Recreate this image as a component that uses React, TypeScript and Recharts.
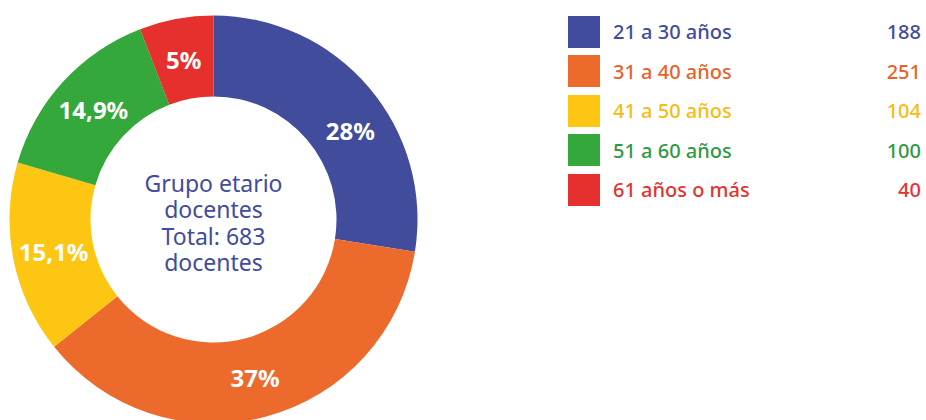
import { PieChart, Pie, Cell, Legend, Label } from "recharts";

const categories = ["21 a 30 años", "31 a 40 años", "41 a 50 años", "51 a 60 años", "61 años o más"];
const docentes = [188, 251, 104, 100, 40];
const percentLabels = ["28%", "37%", "15,1%", "14,9%", "5%"];
const sliceColors = ["#414c9c", "#ec6a2c", "#fcc612", "#34a83a", "#e5302d"];
const textColors = ["#414c9c", "#e8622a", "#f9bb12", "#2f9a44", "#e33330"];
const centerLines = ["Grupo etario", "docentes", "Total: 683", "docentes"];

const data = categories.map((name, i) => ({ name, value: docentes[i] }));

const RADIAN = Math.PI / 180;
const FONT = "'Noto Sans', sans-serif";
const CX = 213.5;
const CY = 219.5;

const renderLabel = (props: any) => {
  const { cx, cy, midAngle, index } = props;
  const r = 163;
  // the first label sits a bit lower than its mid angle
  const shift = index === 0 ? -7.5 : 0;
  const a = (midAngle + shift) * RADIAN;
  const x = cx + r * Math.cos(a);
  const y = cy - r * Math.sin(a);
  return (
    <text
      x={x}
      y={y}
      fill="#fff"
      textAnchor="middle"
      dominantBaseline="central"
      fontSize={24}
      fontWeight={700}
      fontFamily={FONT}
    >
      {percentLabels[index]}
    </text>
  );
};

const renderCenter = () => (
  <text
    textAnchor="middle"
    dominantBaseline="central"
    fill="#414c9c"
    fontSize={23}
    fontWeight={400}
    fontFamily={FONT}
  >
    {centerLines.map((line, i) => (
      <tspan key={i} x={CX} y={CY + 3 + (i - 1.5) * 26.4}>
        {line}
      </tspan>
    ))}
  </text>
);

const renderLegend = () => (
  <div style={{ fontFamily: FONT, fontWeight: 500, fontSize: 20 }}>
    {categories.map((name, i) => (
      <div
        key={name}
        style={{ display: "flex", alignItems: "center", height: 39.5, color: textColors[i] }}
      >
        <div style={{ width: 32, height: 32, background: sliceColors[i], marginRight: 13 }} />
        <div style={{ flex: 1 }}>{name}</div>
        <div>{docentes[i]}</div>
      </div>
    ))}
  </div>
);

export default function App() {
  return (
    <div style={{ position: "absolute", left: 0, top: 0, background: "#fff" }}>
      <PieChart width={926} height={420} margin={{ top: 0, right: 0, bottom: 0, left: 0 }}>
        <Pie
          data={data}
          dataKey="value"
          nameKey="name"
          cx={CX}
          cy={CY}
          innerRadius={123}
          outerRadius={204}
          startAngle={90}
          endAngle={-270}
          stroke="none"
          label={renderLabel}
          labelLine={false}
          isAnimationActive={false}
        >
          {data.map((d, i) => (
            <Cell key={d.name} fill={sliceColors[i]} />
          ))}
          <Label position="center" content={renderCenter} />
        </Pie>
        <Legend
          content={renderLegend}
          wrapperStyle={{ left: 568, top: 12, width: 353 }}
        />
      </PieChart>
    </div>
  );
}
